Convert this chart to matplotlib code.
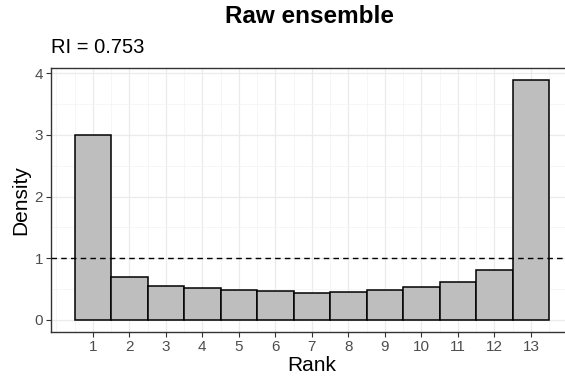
import matplotlib

matplotlib.use("Agg")
import matplotlib.pyplot as plt
import numpy as np

plt.rcParams["font.family"] = ["Liberation Sans", "DejaVu Sans"]

# rank histogram of the raw ensemble (13 ranks)
ranks = np.arange(1, 14)
density = [3.00, 0.705, 0.553, 0.516, 0.489, 0.463, 0.440,
           0.452, 0.479, 0.532, 0.618, 0.818, 3.89]
uniform_level = 1.0
reliability_index = 0.753

fig = plt.figure(figsize=(5.65, 3.76), dpi=100)
# panel runs slightly past the right edge of the figure
ax = fig.add_axes([0.090, 0.117, 0.924, 0.702])

ax.bar(ranks, density, width=1.0, color="#bebebe", edgecolor="black",
       linewidth=1.1, zorder=3)
ax.axhline(uniform_level, color="black", linestyle=(0, (4, 3)), linewidth=1.0, zorder=4)

ax.set_xlim(-0.15, 14.15)
ax.set_ylim(-0.195, 4.085)
ax.set_xticks(ranks)
ax.set_xticks(np.arange(0, 14.5, 0.5), minor=True)
ax.set_yticks(np.arange(0, 5))
ax.set_yticks(np.arange(0.5, 4.0, 1.0), minor=True)

ax.grid(which="major", color="#ebebeb", linewidth=0.9, zorder=0)
ax.grid(which="minor", color="#f3f3f3", linewidth=0.5, zorder=0)
ax.set_axisbelow(True)

for side in ["left", "bottom", "top"]:
    ax.spines[side].set_color("#333333")
    ax.spines[side].set_linewidth(1.0)
ax.spines["right"].set_visible(False)

ax.tick_params(which="major", length=3.5, width=0.8, color="#333333",
               labelsize=11, labelcolor="#4d4d4d", pad=2)
ax.tick_params(which="minor", length=0)

ax.set_xlabel("Rank", fontsize=15, labelpad=2)
ax.set_ylabel("Density", fontsize=15, labelpad=3)

fig.text(0.547, 0.955, "Raw ensemble", ha="center", va="center",
         fontsize=17.5, fontweight="bold")
ax.text(0.0, 1.04, f"RI = {reliability_index}", transform=ax.transAxes,
        ha="left", va="bottom", fontsize=14.5)

fig.savefig("out.png", dpi=100)
